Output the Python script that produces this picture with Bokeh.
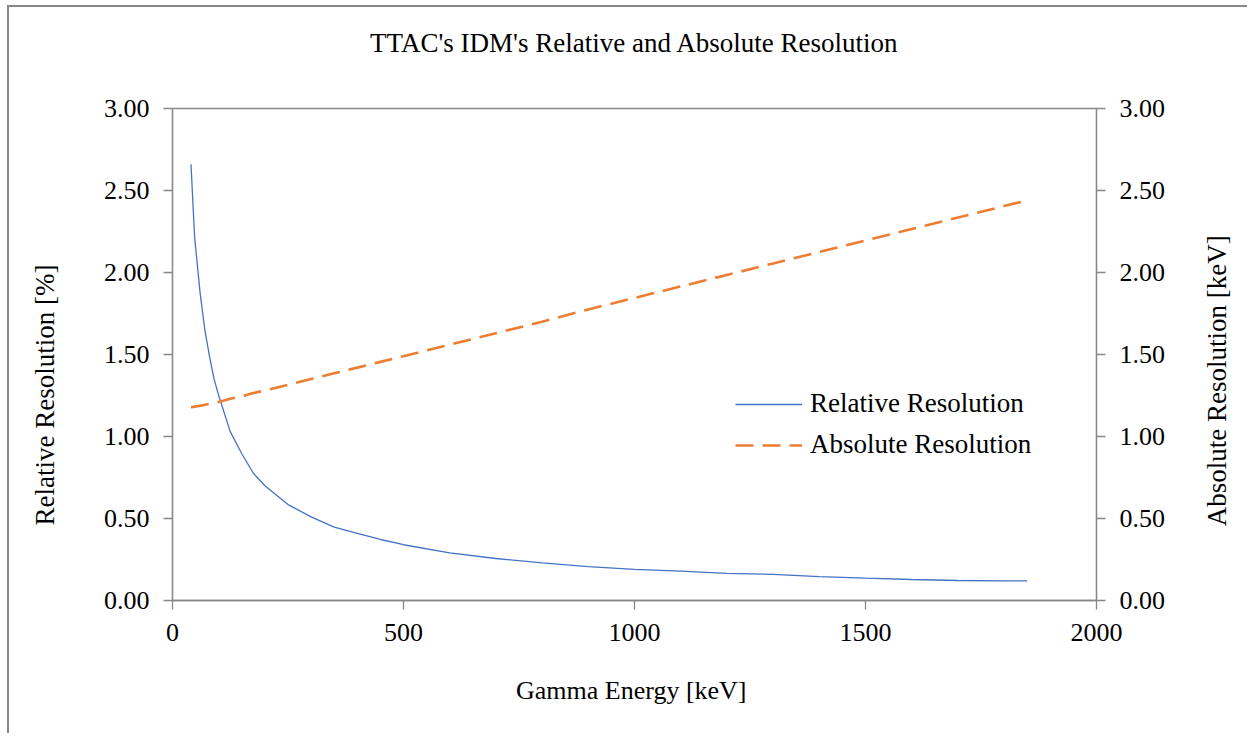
from math import pi
from bokeh.plotting import figure
from bokeh.models import (Range1d, LinearAxis, NumeralTickFormatter, FixedTicker,
                          Legend, LegendItem, Title)
from bokeh.embed import file_html
from bokeh.resources import INLINE

# ---- data ----
energy_kev = [40, 48, 60, 70, 80, 90, 100, 125, 150, 175, 200, 250, 300, 350, 400,
              450, 500, 600, 700, 800, 900, 1000, 1100, 1200, 1300, 1400, 1500,
              1600, 1700, 1800, 1850]
relative_res = [2.66, 2.21, 1.87, 1.65, 1.49, 1.35, 1.25, 1.03, 0.895, 0.776, 0.70,
                0.585, 0.51, 0.447, 0.41, 0.372, 0.34, 0.29, 0.256, 0.229, 0.207,
                0.19, 0.179, 0.166, 0.159, 0.146, 0.136, 0.128, 0.122, 0.12, 0.12]
absolute_res = [1.178, 1.182, 1.188, 1.193, 1.20, 1.205, 1.21, 1.23, 1.245, 1.265,
                1.28, 1.315, 1.35, 1.385, 1.42, 1.455, 1.49, 1.56, 1.63, 1.70, 1.775,
                1.845, 1.915, 1.985, 2.055, 2.125, 2.195, 2.265, 2.335, 2.405, 2.44]

x_ticks = [0, 500, 1000, 1500, 2000]
y_ticks = [0, 0.5, 1.0, 1.5, 2.0, 2.5, 3.0]

title_text = "TTAC's IDM's Relative and Absolute Resolution"
x_title = "Gamma Energy  [keV]"
y_left_title = "Relative Resolution [%]"
y_right_title = "Absolute Resolution [keV]"
series_names = ["Relative Resolution", "Absolute Resolution"]

FONT = "Liberation Serif"
GRAY = "#888888"
NBSP = "\u00a0"

p = figure(width=1240, height=728, x_range=Range1d(0, 2000), y_range=Range1d(0, 3),
           title=None, output_backend="svg", toolbar_location=None,
           min_border_left=163, min_border_right=153,
           min_border_top=101, min_border_bottom=135)
p.extra_y_ranges = {"abs": Range1d(0, 3)}
right_axis = LinearAxis(y_range_name="abs")
p.add_layout(right_axis, "right")

p.styles = {"margin-left": "7px", "margin-top": "5px",
            "border-left": "2px solid #888888", "border-top": "2px solid #888888"}

# spacer then the chart title (stacked outward from the frame)
p.add_layout(Title(text=NBSP, text_font_size="1px", standoff=48), "above")
p.add_layout(Title(text=title_text, align="center", standoff=0, text_font=FONT,
                   text_font_size="27px", text_font_style="normal",
                   text_color="black"), "above")

p.xgrid.visible = False
p.ygrid.visible = False
p.outline_line_color = GRAY
p.outline_line_width = 1.3
p.background_fill_color = "white"
p.border_fill_color = "white"

for ax in p.xaxis:
    ax.ticker = FixedTicker(ticks=x_ticks)
    ax.major_label_standoff = 14
    ax.axis_label = x_title
    ax.axis_label_standoff = 32
for ax in p.yaxis:
    ax.ticker = FixedTicker(ticks=y_ticks)
    ax.formatter = NumeralTickFormatter(format="0.00")
    ax.major_label_standoff = 14
for ax in p.xaxis + p.yaxis:
    ax.axis_line_color = GRAY
    ax.axis_line_width = 1.3
    ax.major_tick_line_color = GRAY
    ax.major_tick_line_width = 1.3
    ax.major_tick_out = 9
    ax.major_tick_in = 0
    ax.minor_tick_line_color = None
    ax.major_label_text_font = FONT
    ax.major_label_text_font_size = "26px"
    ax.major_label_text_color = "black"
    ax.axis_label_text_font = FONT
    ax.axis_label_text_font_size = "26px"
    ax.axis_label_text_font_style = "normal"
    ax.axis_label_text_color = "black"


def title_axis(text, range_name, standoff):
    return LinearAxis(y_range_name=range_name, ticker=FixedTicker(ticks=[]),
                      axis_label=text, axis_label_standoff=standoff,
                      axis_line_color=None, major_tick_line_color=None,
                      minor_tick_line_color=None, major_tick_out=0, major_tick_in=0,
                      major_label_text_font_size="1px", major_label_standoff=0,
                      axis_label_text_font=FONT, axis_label_text_font_size="27px",
                      axis_label_text_font_style="normal",
                      axis_label_text_color="black")


# trailing no-break spaces shift the visible title below the frame centre, as in the original
left_title = title_axis(y_left_title + NBSP * 12, "default", 41)
p.add_layout(left_title, "left")

props = LinearAxis.properties()
if "axis_label_align" in props:
    right_text = NBSP * 11 + y_right_title
else:
    right_text = y_right_title
right_title = title_axis(right_text, "abs", 48)
if "axis_label_orientation" in props:
    right_title.axis_label_orientation = pi / 2
if "axis_label_align" in props:
    right_title.axis_label_align = "start"
p.add_layout(right_title, "right")

r1 = p.line(energy_kev, relative_res, line_color="#4472C4", line_width=1.3)
r2 = p.line(energy_kev, absolute_res, y_range_name="abs", line_color="#ED7D31",
            line_width=2.6, line_dash="18 9")

legend = Legend(items=[LegendItem(label=series_names[0], renderers=[r1]),
                       LegendItem(label=series_names[1], renderers=[r2])],
                location=(563, 140))
legend.label_text_font = FONT
legend.label_text_font_size = "27px"
legend.label_text_color = "black"
legend.glyph_width = 67
legend.glyph_height = 20
legend.label_height = 20
legend.spacing = 10
legend.padding = 0
legend.margin = 0
legend.label_standoff = 8
legend.border_line_color = None
legend.background_fill_alpha = 0
p.add_layout(legend)

open("out.html", "w").write(file_html(p, INLINE))
